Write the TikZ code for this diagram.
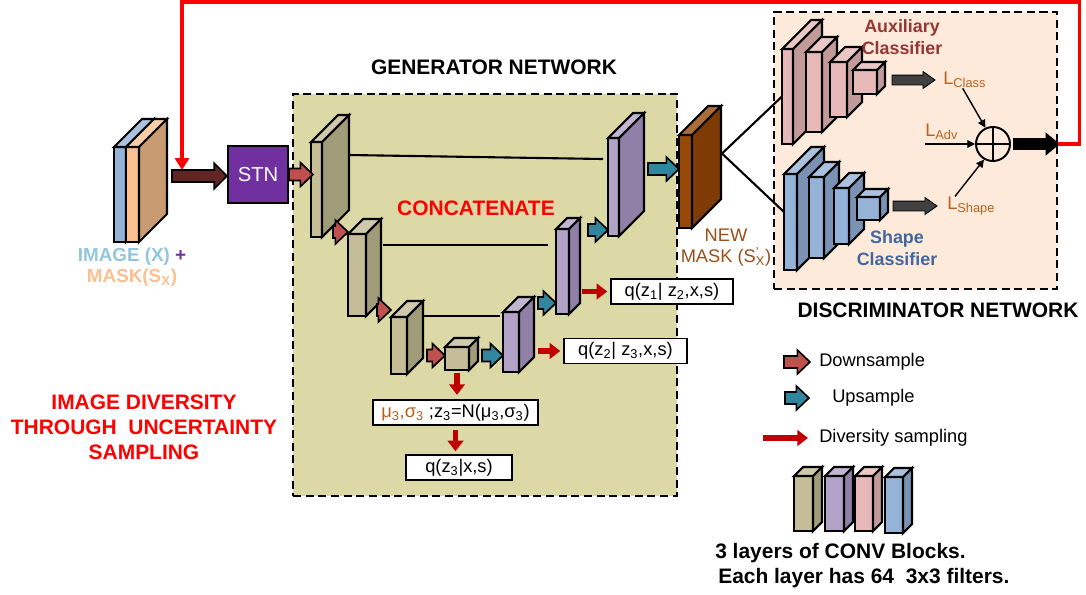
\documentclass[tikz,border=0pt]{standalone}
\usepackage{fontspec}
\setmainfont{Liberation Sans}
\usetikzlibrary{calc,arrows.meta}

\definecolor{genbg}{HTML}{DDD9A6}
\definecolor{discbg}{HTML}{FDEADA}
\definecolor{khaki}{HTML}{C4BD97}
\definecolor{khakiside}{HTML}{A09C7A}
\definecolor{lilac}{HTML}{B3A2C7}
\definecolor{lilacside}{HTML}{9080A8}
\definecolor{rose}{HTML}{E6B9B8}
\definecolor{roseside}{HTML}{C29A99}
\definecolor{steel}{HTML}{95B3D7}
\definecolor{steelside}{HTML}{7A92B4}
\definecolor{maskfront}{HTML}{984807}
\definecolor{maskside}{HTML}{7F3B06}
\definecolor{imgorange}{HTML}{FAC090}
\definecolor{imgside}{HTML}{C89B73}
\definecolor{imgtxt}{HTML}{93C6DB}
\definecolor{stnpurple}{HTML}{7030A0}
\definecolor{inmaroon}{HTML}{632523}
\definecolor{downred}{HTML}{C0504D}
\definecolor{upteal}{HTML}{31859C}
\definecolor{divred}{HTML}{C00000}
\definecolor{greyfill}{HTML}{404040}
\definecolor{losscol}{HTML}{B9601F}
\definecolor{masktxt}{HTML}{9C4E16}
\definecolor{auxred}{HTML}{953735}
\definecolor{shapeblue}{HTML}{41679E}

% one pixel of the drawing
\newcommand{\pxu}{0.025cm}

% 3D conv block: name, x, y (front top left), width, height, depth, front, side
\newcommand{\convblock}[8]{%
  \node[blockface, fill=#7, minimum width=#4*\pxu, minimum height=#5*\pxu] (#1) at (#2+#4/2, #3+#5/2) {};
  \filldraw[blockline, fill=#7!80!white] (#1.north west) -- ++(#6,-#6) -- ++(#4,0) -- (#1.north east) -- cycle;
  \filldraw[blockline, fill=#8] (#1.north east) -- ++(#6,-#6) -- ++(0,#5) -- (#1.south east) -- cycle;
}

% block arrow: [style], from, to, head half, shaft half, head length
\newcommand{\fatarrow}[6][]{%
  \filldraw[fatline,#1] let \p1=(#2), \p2=(#3) in
    (\x1,\y1+#5) -- (\x2-#6,\y1+#5) -- (\x2-#6,\y1+#4) -- (\x2,\y1)
    -- (\x2-#6,\y1-#4) -- (\x2-#6,\y1-#5) -- (\x1,\y1-#5) -- cycle;
}

\begin{document}
\begin{tikzpicture}[x=0.025cm, y=-0.025cm,
    blockface/.style={draw, line width=1.5pt, inner sep=0pt, outer sep=0pt},
    blockline/.style={line width=1.5pt},
    fatline/.style={draw=black, line width=1.2pt},
    downarrow/.style={fill=downred},
    uparrow/.style={fill=upteal},
    inarrow/.style={fill=inmaroon},
    greyarrow/.style={fill=greyfill, line width=0.6pt},
    blackarrow/.style={fill=black},
    divarrow/.style={draw=divred, line width=4pt, -{Triangle[width=11pt,length=7.5pt]}},
    netbox/.style={draw, line width=2pt, dash pattern=on 5.7pt off 3.3pt},
    skipline/.style={line width=1.5pt},
    lossarrow/.style={line width=1pt, -{Triangle[length=5.5pt,width=5.5pt]}},
    loopline/.style={draw=red, line width=2.4pt, -{Triangle[width=10pt,length=8.5pt]}},
    qbox/.style={draw, fill=white, line width=1.3pt, inner sep=0pt, minimum height=25*\pxu, font=\fontsize{13}{15}\selectfont},
    titletext/.style={font=\fontsize{14.9}{17.8}\selectfont\bfseries},
    classtext/.style={font=\fontsize{12.7}{15.5}\selectfont\bfseries, align=center},
    losstext/.style={font=\fontsize{13}{15}\selectfont, text=losscol, inner sep=0pt, anchor=west},
    legendtext/.style={font=\fontsize{13}{15}\selectfont, inner sep=0pt, anchor=west}]
    \useasboundingbox (0,0) rectangle (1086,594);
    % network frames
    \node[netbox, fill=genbg, minimum width=384*\pxu, minimum height=402*\pxu] (gen) at (485,295) {};
    \node[netbox, fill=discbg, minimum width=283*\pxu, minimum height=277*\pxu] (disc) at (915.5,150.5) {};
    % titles
    \node[titletext] (gentitle) at (494,67) {GENERATOR NETWORK};
    \node[titletext] (disctitle) at (938,310) {DISCRIMINATOR NETWORK};
    \node[titletext, text=red] (concat) at (476,208) {CONCATENATE};
    \node[titletext, text=red, align=center] (divtext) at (144,427) {IMAGE DIVERSITY\\THROUGH\ \ UNCERTAINTY\\SAMPLING};

    % input image + mask
    \convblock{imgb}{114}{147}{12}{95}{28}{steel}{steel}
    \convblock{img}{126}{147}{13}{95}{28}{imgorange}{imgside}
    \node[font=\fontsize{13.4}{15}\selectfont\bfseries, align=center] (imglab) at (132,267)
        {\textcolor{imgtxt}{IMAGE (X)} \textcolor{stnpurple}{+}\\\textcolor{imgorange}{MASK(S\textsubscript{X})}};
    % STN
    \node[draw, fill=stnpurple, line width=1.6pt, minimum width=60*\pxu, minimum height=57*\pxu,
        text=white, font=\fontsize{14.4}{16}\selectfont] (stn) at (258,174.5) {STN};
    \coordinate (instart) at ([shift={(33,-18.5)}]img.east);
    \fatarrow[inarrow]{instart}{stn.west}{9pt}{4.3pt}{9pt}

    % encoder
    \convblock{e1}{311}{142}{11}{95}{27}{khaki}{khakiside}
    \convblock{e2}{348}{234}{18}{82}{15}{khaki}{khakiside}
    \convblock{e3}{391}{317}{16}{57}{16}{khaki}{khakiside}
    \convblock{bneck}{445}{347}{24}{23}{9}{khaki}{khakiside}
    % decoder
    \convblock{d3}{503}{312}{16}{60}{15}{lilac}{lilacside}
    \convblock{d2}{556}{229}{13}{85}{11}{lilac}{lilacside}
    \convblock{d1}{608}{138}{11}{98}{25}{lilac}{lilacside}
    % skip connections
    \draw[skipline] ([shift={(27,13)}]e1.north east) -- ([shift={(-5,21)}]d1.north west);
    \draw[skipline] ([shift={(17,11)}]e2.north east) -- ([shift={(-8,16)}]d2.north west);
    \draw[skipline] ([shift={(16,-1)}]e3.north east) -- ([shift={(-3,4)}]d3.north west);
    % down and up sampling
    \fatarrow[downarrow]{stn.east}{[shift={(2,0)}]e1.west}{8.5pt}{4.3pt}{9pt}
    \fatarrow[downarrow]{[shift={(11,-5)}]e1.south east}{e2.west}{8.5pt}{4.3pt}{9pt}
    \fatarrow[downarrow]{[shift={(11,-6)}]e2.south east}{e3.west}{8.5pt}{4.3pt}{9pt}
    \fatarrow[downarrow]{[shift={(20,10)}]e3.east}{bneck.west}{8.5pt}{4.3pt}{9pt}
    \fatarrow[uparrow]{[shift={(13,-3)}]bneck.east}{d3.west}{8.5pt}{4.3pt}{9pt}
    \fatarrow[uparrow]{[shift={(19,-9)}]d3.north east}{d2.west}{8.5pt}{4.3pt}{9pt}
    \fatarrow[uparrow]{[shift={(19,1)}]d2.north east}{d1.west}{8.5pt}{4.3pt}{9pt}

    % latent boxes
    \node[qbox, minimum width=122*\pxu] (qone) at (672,291.5) {q(z\textsubscript{1}| z\textsubscript{2},x,s)};
    \node[qbox, minimum width=123*\pxu] (qtwo) at (625.5,351) {q(z\textsubscript{2}| z\textsubscript{3},x,s)};
    \node[qbox, minimum width=165*\pxu] (mu) at (455.5,412.5)
        {\textcolor{losscol}{μ\textsubscript{3},σ\textsubscript{3}} ;z\textsubscript{3}=N(μ\textsubscript{3},σ\textsubscript{3})};
    \node[qbox, minimum width=106*\pxu] (qthree) at (459,467.5) {q(z\textsubscript{3}|x,s)};
    % diversity sampling
    \draw[divarrow, shorten >=2pt] ($(d2.east |- qone.west)+(13,0)$) -- (qone.west);
    \draw[divarrow, shorten >=2pt] ($(d3.east |- qtwo.west)+(19,0)$) -- (qtwo.west);
    \draw[divarrow, shorten <=2pt, shorten >=3pt] (bneck.south) -- (bneck.south |- mu.north);
    \draw[divarrow, shorten <=3pt, shorten >=2pt] (mu.south) -- (mu.south |- qthree.north);

    % new mask
    \convblock{mask}{679}{135}{13}{93}{29}{maskfront}{maskside}
    \fatarrow[uparrow]{[shift={(29,-18)}]d1.east}{mask.west}{8.5pt}{4.3pt}{9pt}
    \node[font=\fontsize{13}{15}\selectfont, text=masktxt, align=center] (masklab) at (726,248)
        {NEW\\MASK (S\rlap{\textsuperscript{'}}\textsubscript{X})};

    % auxiliary classifier
    \convblock{a1}{782}{49}{11}{95}{29}{rose}{roseside}
    \convblock{a2}{806}{52}{16}{80}{15}{rose}{roseside}
    \convblock{a3}{830}{62}{17}{55}{15}{rose}{roseside}
    \convblock{a4}{853}{70}{24}{24}{8}{rose}{roseside}
    \node[classtext, text=auxred] (auxlab) at (902,37) {Auxiliary\\Classifier};
    % shape classifier
    \convblock{s1}{784}{174}{13}{96}{27}{steel}{steelside}
    \convblock{s2}{809}{177}{15}{81}{15}{steel}{steelside}
    \convblock{s3}{834}{188}{15}{56}{15}{steel}{steelside}
    \convblock{s4}{857}{197}{23}{23}{8}{steel}{steelside}
    \node[classtext, text=shapeblue] (shapelab) at (897,248) {Shape\\Classifier};
    % mask to both classifiers
    \draw[skipline] ([shift={(30,-28)}]mask.east) -- (a1.west);
    \draw[skipline] ([shift={(30,-28)}]mask.east) -- ([shift={(0,-10)}]s1.west);

    % losses
    \node[losstext] (lclass) at (943,80) {L\textsubscript{Class}};
    \node[losstext] (ladv) at (925,132) {L\textsubscript{Adv}};
    \node[losstext] (lshape) at (947,206) {L\textsubscript{Shape}};
    \fatarrow[greyarrow]{[shift={(15,-2)}]a4.east}{[shift={(-8,0)}]lclass.west}{6pt}{3.5pt}{8.5pt}
    \fatarrow[greyarrow]{[shift={(13,-2.5)}]s4.east}{[shift={(-10,0)}]lshape.west}{6pt}{3.5pt}{8.5pt}
    \node[draw, circle, line width=1.4pt, minimum size=34*\pxu, inner sep=0pt] (plus) at (993,144) {};
    \draw[line width=1.4pt] (plus.north) -- (plus.south) (plus.west) -- (plus.east);
    \draw[lossarrow] ([shift={(-2,0)}]lclass.south) -- (plus.115);
    \draw[lossarrow] (ladv.south west |- plus.west) -- (plus.west);
    \draw[lossarrow] ([shift={(8,0)}]lshape.north west) -- (plus.240);
    \fatarrow[blackarrow]{[shift={(3,0)}]plus.east}{plus.east -| disc.east}{7pt}{3.6pt}{8.5pt}

    % feedback to the input
    \coordinate (fbtip) at ([shift={(10,-6)}]instart);
    \draw[loopline] (plus.east -| disc.east) -- ++(21,0) -- ++(0,-142) -| (fbtip);

    % legend
    \node[legendtext] (ldown) at (819,362) {Downsample};
    \node[legendtext] (lup) at (832,398) {Upsample};
    \node[legendtext] (ldiv) at (819,438) {Diversity sampling};
    \fatarrow[downarrow]{[shift={(-35,0)}]ldown.west}{[shift={(-9,0)}]ldown.west}{8.5pt}{4.3pt}{9pt}
    \fatarrow[uparrow]{[shift={(-47,0)}]lup.west}{[shift={(-23,0)}]lup.west}{8.5pt}{4.3pt}{9pt}
    \draw[divarrow] ([shift={(-56,0)}]ldiv.west) -- ([shift={(-11,0)}]ldiv.west);
    \convblock{k1}{794}{476}{19}{55}{9}{khaki}{khakiside}
    \convblock{k2}{825}{476}{19}{55}{9}{lilac}{lilacside}
    \convblock{k3}{855}{476}{18}{55}{9}{rose}{roseside}
    \convblock{k4}{885}{477}{18}{56}{9}{steel}{steelside}
    \node[titletext, anchor=west, inner sep=0pt] (convnote) at (715,553) {3 layers of CONV Blocks.};
    \node[titletext, anchor=west, inner sep=0pt] (filternote) at (718,578) {Each layer has 64\ \ 3x3 filters.};
\end{tikzpicture}
\end{document}
